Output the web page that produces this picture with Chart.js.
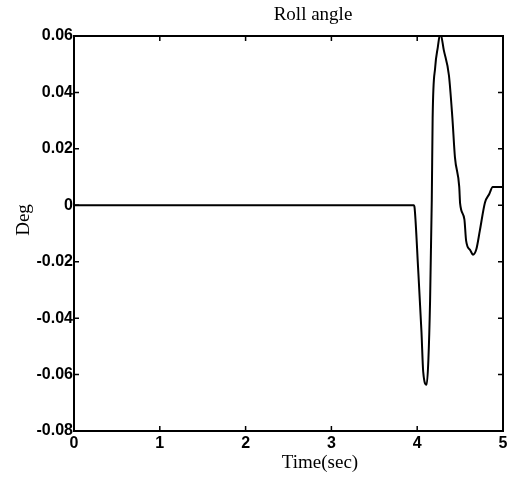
<!DOCTYPE html>
<html>
<head>
<meta charset="utf-8">
<script src="https://cdn.jsdelivr.net/npm/chart.js@4/dist/chart.umd.min.js"></script>
<style>
  html, body { margin: 0; padding: 0; background: #fff; }
  #wrap { width: 523px; height: 485px; }
</style>
</head>
<body>
<div id="wrap"><canvas id="rollChart" width="523" height="485"></canvas></div>
<script>
// roll angle response
const timeValues = [0, 3.96, 3.97, 4.01, 4.05, 4.07, 4.11, 4.13, 4.15, 4.17, 4.18, 4.21, 4.24, 4.27,
  4.31, 4.37, 4.41, 4.44, 4.49, 4.50, 4.55, 4.57, 4.62, 4.65, 4.69, 4.73, 4.79, 4.84, 4.88, 4.94, 5.0];
const rollValues = [0, 0, -0.001, -0.022, -0.045, -0.059, -0.0636, -0.055, -0.034, 0.002, 0.031, 0.049, 0.056, 0.061,
  0.055, 0.046, 0.031, 0.017, 0.0065, 0.0007, -0.005, -0.0125, -0.016, -0.0175, -0.0155, -0.009, 0.001, 0.004, 0.0065, 0.0065, 0.0065];
const xTicks = [0, 1, 2, 3, 4, 5];
const yTicks = [0.06, 0.04, 0.02, 0, -0.02, -0.04, -0.06, -0.08];

const chartTitle = 'Roll angle';
const xTitle = 'Time(sec)';
const yTitle = 'Deg';

const points = timeValues.map((t, i) => ({ x: t, y: rollValues[i] }));

// frame, inward ticks and the serif titles
const framePlugin = {
  id: 'frame',
  afterDraw(chart) {
    const ctx = chart.ctx;
    const a = chart.chartArea;
    const xs = chart.scales.x, ys = chart.scales.y;
    ctx.save();
    ctx.strokeStyle = '#000';
    ctx.lineWidth = 2;
    ctx.strokeRect(a.left, a.top, a.right - a.left, a.bottom - a.top);
    ctx.lineWidth = 1.5;
    const len = 5;
    ctx.beginPath();
    xTicks.forEach(v => {
      const px = xs.getPixelForValue(v);
      ctx.moveTo(px, a.bottom); ctx.lineTo(px, a.bottom - len);
      ctx.moveTo(px, a.top); ctx.lineTo(px, a.top + len);
    });
    yTicks.forEach(v => {
      const py = ys.getPixelForValue(v);
      ctx.moveTo(a.left, py); ctx.lineTo(a.left + len, py);
      ctx.moveTo(a.right, py); ctx.lineTo(a.right - len, py);
    });
    ctx.stroke();

    ctx.fillStyle = '#000';
    ctx.font = '19px "Liberation Serif", "DejaVu Serif", serif';
    ctx.textAlign = 'center';
    ctx.textBaseline = 'middle';
    ctx.fillText(chartTitle, 313, 15);
    ctx.fillText(xTitle, 320, 463);
    ctx.translate(24, 220);
    ctx.rotate(-Math.PI / 2);
    ctx.fillText(yTitle, 0, 0);
    ctx.restore();
  }
};

const tickFont = { family: '"Liberation Sans", Arial, sans-serif', size: 16, weight: 'bold' };

new Chart(document.getElementById('rollChart').getContext('2d'), {
  type: 'scatter',
  data: {
    datasets: [{
      label: 'Roll angle',
      data: points,
      showLine: true,
      borderColor: '#000',
      borderWidth: 2,
      pointRadius: 0,
      cubicInterpolationMode: 'monotone'
    }]
  },
  options: {
    responsive: false,
    animation: false,
    layout: { padding: { left: 0, right: 20, top: 36, bottom: 0 } },
    plugins: { legend: { display: false }, tooltip: { enabled: false }, title: { display: false } },
    scales: {
      x: {
        type: 'linear',
        min: 0, max: 5,
        afterFit(scale) { scale.height = 54; },
        afterBuildTicks(scale) { scale.ticks = xTicks.map(v => ({ value: v })); },
        grid: { display: false, drawTicks: false },
        border: { display: true, color: '#000', width: 2 },
        ticks: { color: '#000', font: tickFont, padding: 3, callback: v => String(v) }
      },
      y: {
        type: 'linear',
        min: -0.08, max: 0.06,
        afterFit(scale) { scale.width = 74; },
        afterBuildTicks(scale) { scale.ticks = yTicks.map(v => ({ value: v })); },
        grid: { display: false, drawTicks: false },
        border: { display: true, color: '#000', width: 2 },
        ticks: {
          color: '#000', font: tickFont, padding: 1,
          callback: v => Math.abs(v) < 1e-9 ? '0' : v.toFixed(2)
        }
      }
    }
  },
  plugins: [framePlugin]
});
</script>
</body>
</html>
